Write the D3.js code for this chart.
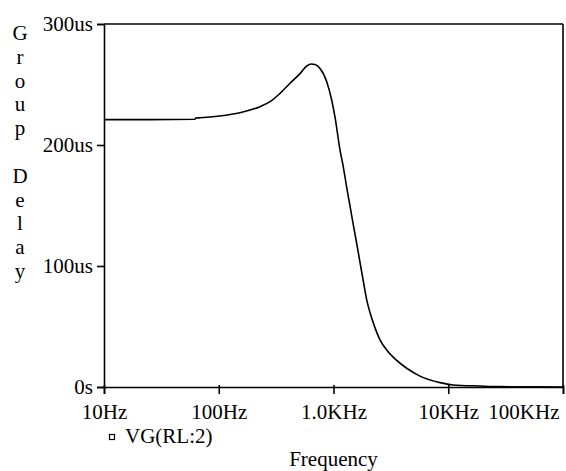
<!DOCTYPE html>
<html>
<head>
<meta charset="utf-8">
<script src="https://cdn.jsdelivr.net/npm/d3@7"></script>
<style>
  html, body { margin: 0; padding: 0; background: #ffffff; }
</style>
</head>
<body>
<svg id="chart" width="566" height="471"></svg>
<script>
// frequency (Hz)
var freqs = [10, 25, 62, 63, 69, 102, 153, 229, 280, 342, 418, 511, 584, 640, 690, 763, 873, 965, 1031,
	1139, 1217, 1303, 1393, 1488, 1593, 1702, 1818, 1947, 2080, 2222, 2542, 2908, 3554, 4344, 5674,
	8472, 11000, 18910, 28250, 100000];

// group delay VG(RL:2), in microseconds
var delays = [221, 221, 221.3, 222.3, 222.5, 224, 226.7, 231.7, 235.8, 242.7, 251, 259, 265.3, 267, 266.5, 263.3, 252.3, 237, 223,
	196, 182, 165, 149.6, 134, 118.6, 103, 87.6, 72, 61.6, 53, 39, 30.6, 22, 15.5, 9,
	3.6, 1.7, 0.8, 0.3, 0];

var xTicks = [10, 100, 1000, 10000, 100000];
var xTickLabels = ["10Hz", "100Hz", "1.0KHz", "10KHz", "100KHz"];
var yTicks = [0, 100, 200, 300];
var yTickLabels = ["0s", "100us", "200us", "300us"];

var yTitle = "Group Delay";
var xTitle = "Frequency";
var legendLabel = "VG(RL:2)";

var chartObj = {

	svg : null,
	font : "'Liberation Serif', 'DejaVu Serif', serif",
	fontSize : "21px",
	box : { left : 104, right : 563, top : 24, bottom : 387 },
	x : null,
	y : null,

	init : function(id) {
		var that = this;
		that.svg = d3.select(id);
		that.x = d3.scaleLog().domain([10, 100000]).range([that.box.left, that.box.right]);
		that.y = d3.scaleLinear().domain([0, 300]).range([that.box.bottom, that.box.top]);
	},

	draw : function() {
		var that = this;
		that.drawFrame();
		that.drawYAxis();
		that.drawXAxis();
		that.drawCurve();
		that.drawTitles();
	},

	drawFrame : function() {
		var that = this;
		var b = that.box;
		// top and right border (left / bottom come with the axes)
		that.drawLine(b.left, b.top, b.right, b.top);
		that.drawLine(b.right, b.top, b.right, b.bottom);
	},

	drawYAxis : function() {
		var that = this;
		var axis = d3.axisLeft(that.y).tickValues(yTicks)
			.tickFormat(function(d, i) { return yTickLabels[i]; })
			.tickSize(7).tickPadding(4);
		var g = that.svg.append("g").attr("transform", "translate(" + that.box.left + ",0)").call(axis);
		that.styleAxis(g);
	},

	drawXAxis : function() {
		var that = this;
		var axis = d3.axisBottom(that.x).tickValues(xTicks)
			.tickFormat(function(d, i) { return xTickLabels[i]; })
			.tickSize(7).tickPadding(10);
		var g = that.svg.append("g").attr("transform", "translate(0," + that.box.bottom + ")").call(axis);
		that.styleAxis(g);
		// ticks poke a little above the axis line
		g.selectAll(".tick line").attr("y1", -2);
		// last label is kept inside the page, like the original
		g.selectAll(".tick text").filter(function(d) { return d == 100000; })
			.attr("text-anchor", "end").attr("x", -4);
	},

	styleAxis : function(g) {
		var that = this;
		g.select(".domain").attr("stroke", "#000000").attr("stroke-width", 1.6);
		g.selectAll(".tick line").attr("stroke", "#000000").attr("stroke-width", 1.6);
		g.selectAll(".tick text").attr("fill", "#000000").attr("font-family", that.font).attr("font-size", that.fontSize);
	},

	drawCurve : function() {
		var that = this;
		var pts = freqs.map(function(f, i) { return [f, delays[i]]; });
		var line = d3.line()
			.x(function(d) { return that.x(d[0]); })
			.y(function(d) { return that.y(d[1]); })
			.curve(d3.curveMonotoneX);
		that.svg.append("path").datum(pts)
			.attr("d", line)
			.attr("fill", "none")
			.attr("stroke", "#000000")
			.attr("stroke-width", 1.6);
	},

	drawTitles : function() {
		var that = this;
		// vertical y title, one letter per row
		var chars = yTitle.split("");
		for (var i = 0; i < chars.length; i++) {
			if (chars[i] == " ") continue;
			that.drawText(20, 40 + i * 23.8, chars[i], that.fontSize, "middle");
		}

		// legend marker and label
		that.svg.append("rect").attr("x", 109.5).attr("y", 434.5).attr("width", 5).attr("height", 5)
			.attr("fill", "none").attr("stroke", "#000000").attr("stroke-width", 1.2);
		that.drawText(125, 443, legendLabel, that.fontSize, "start");

		that.drawText((that.box.left + that.box.right) / 2, 466, xTitle, that.fontSize, "middle");
	},

	drawLine : function(x1, y1, x2, y2) {
		var that = this;
		return that.svg.append("line").attr("x1", x1).attr("y1", y1).attr("x2", x2).attr("y2", y2)
			.attr("stroke", "#000000").attr("stroke-width", 1.6);
	},

	drawText : function(x, y, text, size, anchor) {
		var that = this;
		return that.svg.append("text").attr("x", x).attr("y", y).attr("fill", "#000000")
			.attr("font-size", size).attr("text-anchor", anchor).attr("font-family", that.font).text(text);
	}
};

chartObj.init("#chart");
chartObj.draw();
</script>
</body>
</html>
